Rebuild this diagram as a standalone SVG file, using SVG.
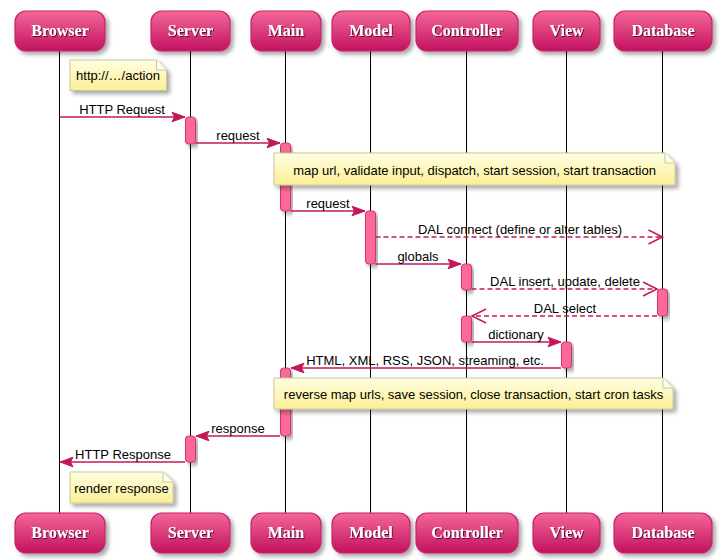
<svg xmlns="http://www.w3.org/2000/svg" width="723" height="560" viewBox="0 0 723 560">
<defs>
  <linearGradient id="pg" x1="0" y1="0" x2="0" y2="1">
    <stop offset="0" stop-color="#F4679A"/>
    <stop offset="1" stop-color="#C2125E"/>
  </linearGradient>
  <linearGradient id="ng" x1="0" y1="0" x2="0" y2="1">
    <stop offset="0" stop-color="#FFFFE2"/>
    <stop offset="1" stop-color="#FBEF96"/>
  </linearGradient>
  <filter id="sh" x="-10%" y="-10%" width="130%" height="140%">
    <feDropShadow dx="3" dy="3" stdDeviation="2" flood-color="#000" flood-opacity="0.35"/>
  </filter>
  <filter id="ts" x="-10%" y="-20%" width="130%" height="150%">
    <feDropShadow dx="1" dy="1" stdDeviation="0.6" flood-color="#400020" flood-opacity="0.8"/>
  </filter>
  <marker id="sol" markerUnits="userSpaceOnUse" markerWidth="16" markerHeight="14" refX="14" refY="7" orient="auto">
    <polygon points="1,2.2 14,7 1,11.8 3.5,7" fill="#C2185B" stroke="#C2185B" stroke-width="1"/>
  </marker>
  <marker id="opn" markerUnits="userSpaceOnUse" markerWidth="18" markerHeight="18" refX="16" refY="9" orient="auto">
    <polyline points="2,2 16,9 2,16" fill="none" stroke="#C2185B" stroke-width="1.5"/>
  </marker>
</defs>
<style>
  .box{fill:url(#pg);stroke:#C8246A;stroke-width:1.2;filter:url(#sh)}
  .pt{font-family:"Liberation Serif","Times New Roman",serif;font-weight:bold;font-size:16px;fill:#fff;text-anchor:middle;filter:url(#ts)}
  .life{stroke:#000;stroke-width:1}
  .act{fill:#FB6A97;stroke:#D0346E;stroke-width:1;filter:url(#sh)}
  .msg{stroke:#C2185B;stroke-width:1.6;fill:none}
  .sync{marker-end:url(#sol)}
  .async{marker-end:url(#opn);stroke-dasharray:5,3}
  .lbl{font-family:"Liberation Sans",Arial,sans-serif;font-size:13px;fill:#000;text-anchor:middle}
  .note{fill:url(#ng);stroke:#C9C79A;stroke-width:1;filter:url(#sh)}
  .fold{fill:#FFFFF0;stroke:#C9C79A;stroke-width:1}
  .nt{font-family:"Liberation Sans",Arial,sans-serif;font-size:13px;fill:#000;text-anchor:middle}
</style>

<g id="lifelines">
  <line class="life" x1="59.5" y1="51" x2="59.5" y2="513"/>
  <line class="life" x1="190.5" y1="51" x2="190.5" y2="513"/>
  <line class="life" x1="285.5" y1="51" x2="285.5" y2="513"/>
  <line class="life" x1="370.5" y1="51" x2="370.5" y2="513"/>
  <line class="life" x1="466.5" y1="51" x2="466.5" y2="513"/>
  <line class="life" x1="566.5" y1="51" x2="566.5" y2="513"/>
  <line class="life" x1="662.5" y1="51" x2="662.5" y2="513"/>
</g>

<g id="Browser">
  <rect class="box" x="15" y="11" width="90" height="40" rx="11"/>
  <text class="pt" x="60" y="36">Browser</text>
  <rect class="box" x="15" y="513" width="90" height="40" rx="11"/>
  <text class="pt" x="60" y="538">Browser</text>
</g>
<g id="Server">
  <rect class="box" x="151" y="11" width="79" height="40" rx="11"/>
  <text class="pt" x="190.5" y="36">Server</text>
  <rect class="box" x="151" y="513" width="79" height="40" rx="11"/>
  <text class="pt" x="190.5" y="538">Server</text>
</g>
<g id="Main">
  <rect class="box" x="251" y="11" width="70" height="40" rx="11"/>
  <text class="pt" x="286" y="36">Main</text>
  <rect class="box" x="251" y="513" width="70" height="40" rx="11"/>
  <text class="pt" x="286" y="538">Main</text>
</g>
<g id="Model">
  <rect class="box" x="332" y="11" width="78" height="40" rx="11"/>
  <text class="pt" x="371" y="36">Model</text>
  <rect class="box" x="332" y="513" width="78" height="40" rx="11"/>
  <text class="pt" x="371" y="538">Model</text>
</g>
<g id="Controller">
  <rect class="box" x="416" y="11" width="102" height="40" rx="11"/>
  <text class="pt" x="467" y="36">Controller</text>
  <rect class="box" x="416" y="513" width="102" height="40" rx="11"/>
  <text class="pt" x="467" y="538">Controller</text>
</g>
<g id="View">
  <rect class="box" x="533" y="11" width="67" height="40" rx="11"/>
  <text class="pt" x="566.5" y="36">View</text>
  <rect class="box" x="533" y="513" width="67" height="40" rx="11"/>
  <text class="pt" x="566.5" y="538">View</text>
</g>
<g id="Database">
  <rect class="box" x="614" y="11" width="98" height="40" rx="11"/>
  <text class="pt" x="663" y="36">Database</text>
  <rect class="box" x="614" y="513" width="98" height="40" rx="11"/>
  <text class="pt" x="663" y="538">Database</text>
</g>

<g id="activations">
  <rect class="act" x="185.5" y="117" width="10" height="27" rx="3"/>
  <rect class="act" x="185.5" y="436" width="10" height="26" rx="3"/>
  <rect class="act" x="280.5" y="143" width="10" height="68" rx="3"/>
  <rect class="act" x="280.5" y="368" width="10" height="68" rx="3"/>
  <rect class="act" x="365.5" y="211" width="10" height="53" rx="3"/>
  <rect class="act" x="461.5" y="264" width="10" height="26" rx="3"/>
  <rect class="act" x="461.5" y="316" width="10" height="26" rx="3"/>
  <rect class="act" x="657.5" y="289" width="10" height="27" rx="3"/>
  <rect class="act" x="561.5" y="342" width="10" height="26" rx="3"/>
</g>

<g id="connectors">
  <line class="msg sync" x1="59.5" y1="117" x2="185" y2="117"/>
  <text class="lbl" x="122" y="114">HTTP Request</text>
  <line class="msg sync" x1="195.5" y1="143" x2="280" y2="143"/>
  <text class="lbl" x="238" y="140">request</text>
  <line class="msg sync" x1="290.5" y1="211" x2="365" y2="211"/>
  <text class="lbl" x="328" y="208">request</text>
  <line class="msg async" x1="375.5" y1="237" x2="662.5" y2="237"/>
  <text class="lbl" x="520" y="234">DAL connect (define or alter tables)</text>
  <line class="msg sync" x1="375.5" y1="264" x2="461" y2="264"/>
  <text class="lbl" x="418" y="261">globals</text>
  <line class="msg async" x1="471.5" y1="289" x2="657" y2="289"/>
  <text class="lbl" x="565" y="286">DAL insert, update, delete</text>
  <line class="msg async" x1="657" y1="316" x2="472" y2="316"/>
  <text class="lbl" x="565" y="313">DAL select</text>
  <line class="msg sync" x1="471.5" y1="342" x2="561" y2="342"/>
  <text class="lbl" x="516" y="339">dictionary</text>
  <line class="msg sync" x1="561" y1="368" x2="291" y2="368"/>
  <text class="lbl" x="425" y="365">HTML, XML, RSS, JSON, streaming, etc.</text>
  <line class="msg sync" x1="280" y1="436" x2="196" y2="436"/>
  <text class="lbl" x="238" y="433">response</text>
  <line class="msg sync" x1="185" y1="462" x2="60" y2="462"/>
  <text class="lbl" x="123" y="459">HTTP Response</text>
</g>

<g id="note1">
  <path class="note" d="M70,60 H156.5 L166.5,70 V90.5 H70 Z"/>
  <path class="fold" d="M156.5,60 V70 H166.5"/>
  <text class="nt" x="118" y="80">http://…/action</text>
</g>
<g id="note2">
  <path class="note" d="M274,153 H665 L675,163 V185 H274 Z"/>
  <path class="fold" d="M665,153 V163 H675"/>
  <text class="nt" x="474.5" y="175">map url, validate input, dispatch, start session, start transaction</text>
</g>
<g id="note3">
  <path class="note" d="M274,378 H663 L673,388 V409 H274 Z"/>
  <path class="fold" d="M663,378 V388 H673"/>
  <text class="nt" x="473.5" y="398.5">reverse map urls, save session, close transaction, start cron tasks</text>
</g>
<g id="note4">
  <path class="note" d="M70,472 H163 L173,482 V503 H70 Z"/>
  <path class="fold" d="M163,472 V482 H173"/>
  <text class="nt" x="121.5" y="492.5">render response</text>
</g>
</svg>
